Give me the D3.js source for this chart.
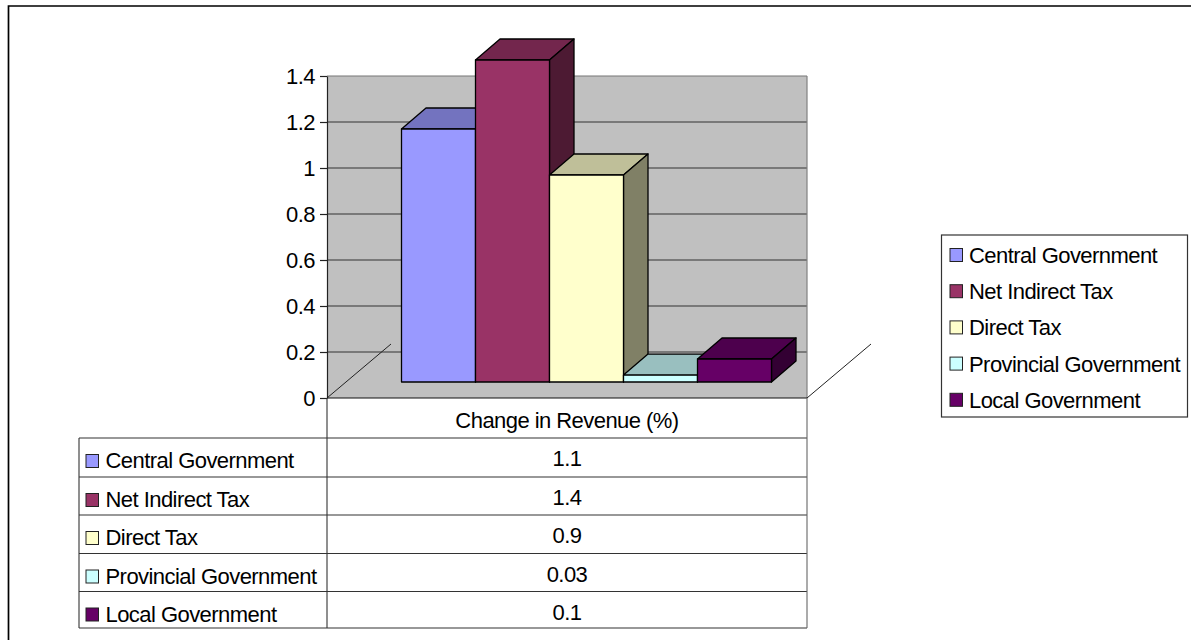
<!DOCTYPE html>
<html>
<head>
<meta charset="utf-8">
<script src="https://cdn.jsdelivr.net/npm/d3@7"></script>
<style>
  html, body { margin: 0; padding: 0; background: #fff; }
  svg { display: block; }
  text { font-family: "Liberation Sans", Arial, sans-serif; font-size: 22px; fill: #000; letter-spacing: -0.55px; }
</style>
</head>
<body>
<script>
const categories = ["Central Government", "Net Indirect Tax", "Direct Tax", "Provincial Government", "Local Government"];
const values = [1.1, 1.4, 0.9, 0.03, 0.1];
const tableValues = ["1.1", "1.4", "0.9", "0.03", "0.1"];
const yTicks = [0, 0.2, 0.4, 0.6, 0.8, 1, 1.2, 1.4];
const colors = ["#9999ff", "#993366", "#ffffcc", "#ccffff", "#660066"];
const seriesName = "Change in Revenue (%)";

const w = 1191, h = 640;
const wall = {left: 327, right: 807, top: 76, bottom: 398};
const depthX = 24.5, depthY = 21;
const floorLift = 16;   // bars stand on the middle of the floor, not on the front edge
const floorX = 64, floorY = 54;

const svg = d3.select("body").append("svg").attr("width", w).attr("height", h);

// frame only has a top and a left edge, the rest is cropped off
svg.append("path").attr("d", `M8.5,${h}V6H${w}`)
   .attr("fill", "none").attr("stroke", "#000").attr("stroke-width", 1.7);

const yScale = d3.scaleLinear().domain([0, 1.4]).range([wall.bottom, wall.top]);
const xScale = d3.scaleBand().domain(categories).range([401.5, 771.5]);

// back wall
svg.append("rect").attr("x", wall.left).attr("y", wall.top)
   .attr("width", wall.right - wall.left).attr("height", wall.bottom - wall.top)
   .attr("fill", "#c0c0c0");

svg.append("g").selectAll("line")
   .data(yTicks.filter(d => d > 0))
   .enter()
   .append("line")
   .attr("x1", wall.left).attr("x2", wall.right)
   .attr("y1", d => yScale(d)).attr("y2", d => yScale(d))
   .attr("stroke", d => d == 1.4 ? "#777" : "#333").attr("stroke-width", 1.2);

svg.append("line").attr("x1", wall.right).attr("x2", wall.right)
   .attr("y1", wall.top).attr("y2", wall.bottom).attr("stroke", "#808080").attr("stroke-width", 1.2);

// floor edges
[wall.left, wall.right].forEach(x => {
  svg.append("line").attr("x1", x).attr("y1", wall.bottom)
     .attr("x2", x + floorX).attr("y2", wall.bottom - floorY)
     .attr("stroke", "#222").attr("stroke-width", 1);
});

// 3d bars, left to right so each front covers the neighbour's side
const shade = (c, k) => {
  const r = d3.rgb(c);
  return d3.rgb(r.r * k, r.g * k, r.b * k).formatHex();
};
const bars = svg.selectAll("g.bar")
   .data(categories.map((c, i) => ({name: c, value: values[i], color: colors[i]})))
   .enter()
   .append("g")
   .attr("class", "bar")
   .attr("stroke", "#000")
   .attr("stroke-width", 1.3)
   .attr("stroke-linejoin", "round");

const x0 = d => xScale(d.name), x1 = d => xScale(d.name) + xScale.bandwidth();
const yTop = d => yScale(d.value) - floorLift, yBase = yScale(0) - floorLift;

bars.append("path")
   .attr("fill", d => shade(d.color, 0.75))
   .attr("d", d => `M${x0(d)},${yTop(d)}L${x0(d) + depthX},${yTop(d) - depthY}L${x1(d) + depthX},${yTop(d) - depthY}L${x1(d)},${yTop(d)}Z`);
bars.append("path")
   .attr("fill", d => shade(d.color, 0.5))
   .attr("d", d => `M${x1(d)},${yTop(d)}L${x1(d) + depthX},${yTop(d) - depthY}L${x1(d) + depthX},${yBase - depthY}L${x1(d)},${yBase}Z`);
bars.append("rect")
   .attr("x", x0).attr("y", yTop)
   .attr("width", xScale.bandwidth()).attr("height", d => yBase - yTop(d))
   .attr("fill", d => d.color);

// y axis
const yAxis = d3.axisLeft(yScale).tickValues(yTicks).tickSize(7).tickSizeOuter(0).tickPadding(5).tickFormat(d => String(d));
const axisG = svg.append("g").attr("transform", "translate(" + wall.left + ",0)").call(yAxis);
axisG.attr("font-size", null).attr("font-family", null);
axisG.selectAll("line, path").attr("stroke", "#222").attr("stroke-width", 1.2);

// data table
const tableLeft = 79, rowH = [40, 39, 38, 38.5, 38, 36.5];
const rowY = [wall.bottom];
rowH.forEach(r => rowY.push(rowY[rowY.length - 1] + r));

const grid = svg.append("g").attr("stroke", "#333").attr("stroke-width", 1.1);
grid.append("line").attr("x1", wall.left).attr("x2", wall.right).attr("y1", rowY[0]).attr("y2", rowY[0]).attr("stroke", "#111");
rowY.slice(1).forEach(y => {
  grid.append("line").attr("x1", tableLeft).attr("x2", wall.right).attr("y1", y).attr("y2", y);
});
grid.append("line").attr("x1", tableLeft).attr("x2", tableLeft).attr("y1", rowY[1]).attr("y2", rowY[6]);
grid.append("line").attr("x1", wall.left).attr("x2", wall.left).attr("y1", rowY[0]).attr("y2", rowY[6]);
grid.append("line").attr("x1", wall.right).attr("x2", wall.right).attr("y1", rowY[0]).attr("y2", rowY[6]).attr("stroke", "#666");

const midX = (wall.left + wall.right) / 2;
svg.append("text").attr("x", midX).attr("y", rowY[0] + 30).attr("text-anchor", "middle").text(seriesName);

categories.forEach((c, i) => {
  const top = rowY[i + 1];
  svg.append("rect").attr("x", 86).attr("y", top + 16.5).attr("width", 12.5).attr("height", 13)
     .attr("fill", colors[i]).attr("stroke", "#222").attr("stroke-width", 1);
  svg.append("text").attr("x", 105.5).attr("y", top + 30).text(c);
  svg.append("text").attr("x", midX).attr("y", top + 28).attr("text-anchor", "middle").text(tableValues[i]);
});

// legend
const legendBox = {x: 941.5, y: 235, w: 246, h: 182};
svg.append("rect").attr("x", legendBox.x).attr("y", legendBox.y).attr("width", legendBox.w).attr("height", legendBox.h)
   .attr("fill", "#fff").attr("stroke", "#333").attr("stroke-width", 1.2);
const legend = svg.selectAll("g.legend").data(categories).enter().append("g").attr("class", "legend")
   .attr("transform", (d, i) => "translate(0," + (255 + i * 36.2) + ")");
legend.append("rect").attr("x", 950).attr("y", -6.5).attr("width", 12.5).attr("height", 13)
   .attr("fill", (d, i) => colors[i]).attr("stroke", "#222").attr("stroke-width", 1);
legend.append("text").attr("x", 969).attr("y", 8).text(d => d);
</script>
</body>
</html>
